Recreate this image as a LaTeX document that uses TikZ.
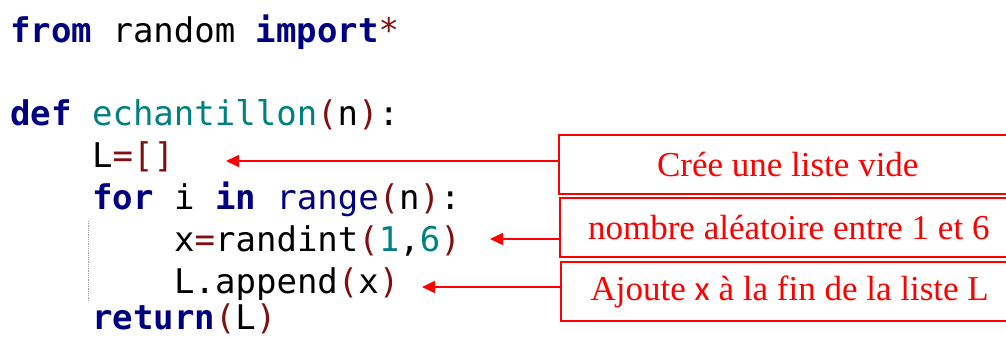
\documentclass[tikz,border=0pt]{standalone}
\usepackage{fontspec}
\usepackage{xcolor}
\usepackage{tikz}
\usetikzlibrary{arrows.meta,positioning}
\setmainfont{Liberation Serif}
\setmonofont{DejaVu Sans Mono}
\newfontfamily\xfont{Carlito}
\definecolor{kwnavy}{RGB}{0, 0, 128}
\definecolor{fnteal}{RGB}{0, 128, 128}
\definecolor{opbrown}{RGB}{128, 16, 16}
\definecolor{guidegray}{RGB}{160, 160, 160}
\newcommand{\kw}[1]{\textcolor{kwnavy}{\textbf{#1}}}
\newcommand{\fn}[1]{\textcolor{fnteal}{#1}}
\newcommand{\op}[1]{\textcolor{opbrown}{#1}}

\begin{document}
\begin{tikzpicture}[
    x=1pt, y=-1pt,
    code/.style={anchor=base west, inner sep=0pt, font=\fontsize{34}{40}\selectfont\ttfamily},
    comment/.style={rectangle, anchor=west, minimum width=458pt, minimum height=59pt, inner sep=0pt, text centered, draw=red, line width=1.5pt, text=red, font=\fontsize{35}{40}\selectfont},
    arrow/.style={red, line width=1.6pt, -{Triangle[length=13pt,width=12pt]}}
]
\useasboundingbox (0,0) rectangle (1006,338);
\clip (0,0) rectangle (1006,338);

% Python code
\node[code] (import) at (10,42) {\kw{from} random \kw{import}\op{*}};
\node[code] (def) at (10,125) {\kw{def} \fn{echantillon}\op{(}n\op{)}:};
\node[code] (init) at (92,167) {L\op{=[]}};
\node[code] (loop) at (92,209) {\kw{for} i \kw{in} \textcolor{kwnavy}{range}\op{(}n\op{)}:};
\node[code] (draw) at (174,251) {x\op{=}randint\op{(}\fn{1},\fn{6}\op{)}};
\node[code] (add) at (174,293) {L.append\op{(}x\op{)}};
\node[code, text depth=0pt] (ret) at (92,329) {\kw{return}\op{(}L\op{)}};
\draw[guidegray, densely dotted, line width=0.8pt] (88,221) -- (88,302);

% Comments
\node[comment] (empty) at (558,164.5) {Crée une liste vide};
\node[comment] (random) at (559,227.5) {nombre aléatoire entre 1 et 6};
\node[comment] (append) at (560,291.5) {Ajoute {\xfont x} à la fin de la liste L};

% Arrows
\coordinate (tip1) at (226,161);
\coordinate (tip2) at (490,239);
\coordinate (tip3) at (422,287);
\draw[arrow] (empty.west |- tip1) -- (tip1);
\draw[arrow] (random.west |- tip2) -- (tip2);
\draw[arrow] (append.west |- tip3) -- (tip3);

\end{tikzpicture}
\end{document}
